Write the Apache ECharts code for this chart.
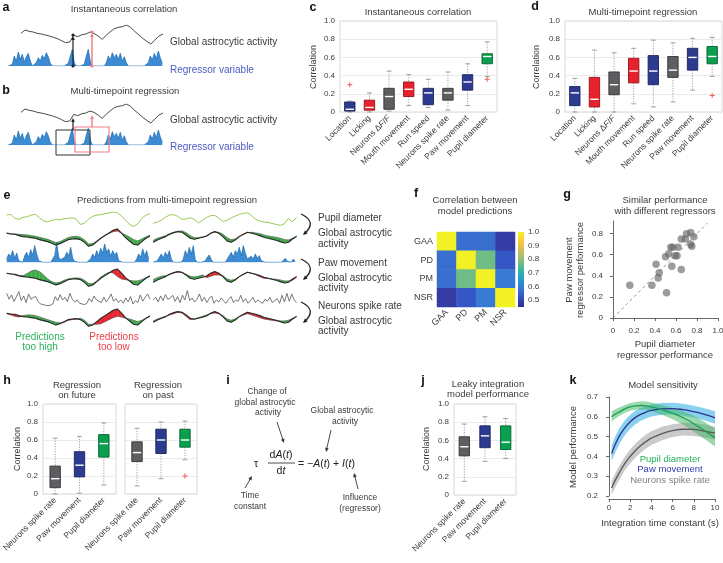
<!DOCTYPE html>
<html>
<head>
<meta charset="utf-8">
<script src="https://cdn.jsdelivr.net/npm/echarts@6/dist/echarts.min.js"></script>
<style>
  html, body { margin: 0; padding: 0; background: #fff; }
  #chart { width: 723px; height: 563px; }
</style>
</head>
<body>
<div id="chart"></div>
<script>
// ---------- data ----------
const boxCats = ['Location', 'Licking', 'Neurons ΔF/F', 'Mouth movement', 'Run speed', 'Neurons spike rate', 'Paw movement', 'Pupil diameter'];
const boxColorKeys = ['blue', 'red', 'gray', 'red', 'blue', 'gray', 'blue', 'green'];
// [low whisker, q1, median, q3, high whisker]
const instBoxes = [
  [0, 0.01, 0.03, 0.11, 0.12], [0, 0.02, 0.05, 0.13, 0.21], [0.01, 0.03, 0.17, 0.26, 0.45], [0.07, 0.17, 0.25, 0.33, 0.41],
  [0.05, 0.08, 0.21, 0.26, 0.36], [0.02, 0.13, 0.21, 0.26, 0.44], [0.07, 0.24, 0.33, 0.41, 0.53], [0.39, 0.53, 0.61, 0.64, 0.77]
];
const instOutliers = [[0, 0.30], [7, 0.36]];
const multiBoxes = [
  [0, 0.07, 0.21, 0.28, 0.37], [0, 0.055, 0.14, 0.38, 0.68], [0, 0.19, 0.30, 0.44, 0.65], [0.09, 0.32, 0.45, 0.59, 0.70],
  [0.055, 0.30, 0.45, 0.62, 0.79], [0.11, 0.38, 0.46, 0.61, 0.76], [0.24, 0.46, 0.60, 0.70, 0.81], [0.39, 0.53, 0.61, 0.72, 0.82]
];
const multiOutliers = [[7, 0.18]];

const regCats = ['Neurons spike rate', 'Paw movement', 'Pupil diameter'];
const regColorKeys = ['gray', 'blue', 'green'];
const futureBoxes = [[0, 0.07, 0.17, 0.31, 0.62], [0.01, 0.19, 0.32, 0.47, 0.64], [0.10, 0.41, 0.56, 0.66, 0.79]];
const pastBoxes = [[0.09, 0.36, 0.46, 0.58, 0.73], [0.17, 0.45, 0.60, 0.72, 0.80], [0.38, 0.52, 0.60, 0.72, 0.81]];
const pastOutliers = [[2, 0.20]];
const leakyBoxes = [[0.15, 0.43, 0.53, 0.64, 0.78], [0.37, 0.52, 0.65, 0.76, 0.86], [0.40, 0.50, 0.58, 0.76, 0.84]];

const corrLabels = ['GAA', 'PD', 'PM', 'NSR'];
const corrMatrix = [
  [1.00, 0.57, 0.57, 0.48],
  [0.57, 1.00, 0.77, 0.53],
  [0.57, 0.77, 1.00, 0.59],
  [0.48, 0.53, 0.59, 1.00]
];
const colorbarRange = [0.45, 1.0];
const colorbarTicks = [0.5, 0.6, 0.7, 0.8, 0.9, 1.0];

const pupilPerf = [0.16, 0.37, 0.41, 0.44, 0.43, 0.51, 0.50, 0.53, 0.55, 0.57, 0.56, 0.59, 0.61, 0.62, 0.65, 0.65, 0.69, 0.70, 0.74, 0.74, 0.75, 0.77];
const pawPerf = [0.31, 0.31, 0.51, 0.43, 0.38, 0.24, 0.58, 0.61, 0.67, 0.67, 0.49, 0.59, 0.59, 0.67, 0.75, 0.46, 0.75, 0.80, 0.81, 0.70, 0.68, 0.77];
const diagLine = [[0, 0], [0.9, 0.9]];
const gTicks = [0, 0.2, 0.4, 0.6, 0.8];

const kTimes = [0.25, 0.5, 1, 1.5, 2, 2.5, 3, 3.5, 4, 5, 6, 7, 8, 9, 10];
const pupilMean = [0.600, 0.610, 0.625, 0.640, 0.650, 0.655, 0.657, 0.655, 0.650, 0.636, 0.618, 0.595, 0.565, 0.530, 0.495];
const pupilLo = [0.575, 0.588, 0.605, 0.620, 0.630, 0.635, 0.637, 0.635, 0.628, 0.610, 0.588, 0.560, 0.525, 0.488, 0.450];
const pupilHi = [0.625, 0.635, 0.648, 0.660, 0.670, 0.675, 0.678, 0.677, 0.672, 0.660, 0.645, 0.628, 0.605, 0.575, 0.540];
const pawMean = [0.415, 0.450, 0.505, 0.545, 0.575, 0.597, 0.612, 0.624, 0.632, 0.640, 0.641, 0.636, 0.626, 0.612, 0.595];
const pawLo = [0.375, 0.410, 0.465, 0.508, 0.540, 0.562, 0.580, 0.592, 0.601, 0.610, 0.612, 0.607, 0.597, 0.582, 0.565];
const pawHi = [0.455, 0.490, 0.545, 0.582, 0.610, 0.632, 0.645, 0.656, 0.663, 0.670, 0.671, 0.666, 0.656, 0.643, 0.628];
const nsrMean = [0.240, 0.270, 0.320, 0.365, 0.400, 0.430, 0.455, 0.475, 0.492, 0.515, 0.530, 0.537, 0.536, 0.528, 0.518];
const nsrLo = [0.205, 0.235, 0.285, 0.330, 0.365, 0.395, 0.420, 0.440, 0.457, 0.482, 0.498, 0.505, 0.503, 0.495, 0.485];
const nsrHi = [0.275, 0.305, 0.355, 0.400, 0.435, 0.465, 0.490, 0.510, 0.527, 0.550, 0.563, 0.570, 0.569, 0.561, 0.550];

// traces (arbitrary units, sampled evenly along time)
const schemeGaa = [40, 50, 46, 44, 40, 38, 35, 32, 28, 24, 18, 12, 14, 34, 30, 36, 38, 44, 40, 32, 22, 34, 45, 54, 58, 60, 65, 58, 46, 36, 25, 16, 8, 20, 32, 38];
const schemeRegressor = [0, 0, 5, 30, 15, 42, 20, 35, 12, 28, 38, 15, 0, 0, 10, 25, 15, 32, 22, 40, 28, 8, 0, 0, 0, 0, 0, 0, 0, 0,
  8, 30, 50, 10, 0, 0, 0, 0, 5, 30, 50, 15, 0, 0, 0, 0, 0, 0, 0, 10, 30, 18, 40, 25, 35, 20, 38, 15, 28, 10,
  0, 0, 0, 0, 0, 0, 0, 0, 0, 0, 10, 30, 18, 38, 22, 45, 25, 8];

const gaaLeft = [45, 43, 42, 38, 35, 34, 32, 30, 26, 23, 20, 15, 10, 14, 20, 26, 28, 29, 26, 18, 6, 10, 20, 30, 38, 46, 54, 58, 46, 32, 22, 12, 10, 20, 30, 37];
const gaaRight = [18, 25, 30, 35, 42, 47, 50, 48, 40, 30, 27, 30, 33, 37, 45, 50, 45, 35, 22, 18, 25, 35, 42, 48, 45, 42, 38, 33, 30, 27, 24, 20, 16, 18, 28, 35];
const pupilPredLeft = [46, 44, 43, 42, 41, 40, 38, 36, 33, 30, 27, 22, 17, 20, 26, 32, 35, 36, 33, 25, 13, 14, 22, 31, 40, 45, 50, 52, 46, 40, 34, 26, 22, 28, 34, 39];
const pupilPredRight = [24, 30, 34, 38, 44, 48, 51, 52, 47, 38, 32, 32, 34, 36, 45, 49, 48, 42, 32, 26, 28, 36, 42, 47, 48, 46, 44, 40, 37, 35, 33, 30, 26, 25, 30, 37];
const pawPredLeft = [45, 44, 40, 37, 38, 44, 52, 55, 50, 40, 28, 20, 16, 18, 24, 28, 30, 31, 30, 24, 14, 14, 22, 34, 42, 48, 46, 36, 28, 26, 24, 22, 22, 26, 32, 38];
const pawPredRight = [26, 32, 36, 38, 42, 46, 49, 47, 42, 36, 34, 36, 40, 32, 36, 40, 40, 38, 28, 24, 27, 35, 42, 48, 45, 41, 35, 30, 30, 28, 27, 25, 22, 22, 24, 33];
const nsrPredLeft = [44, 40, 36, 34, 38, 40, 40, 38, 34, 30, 26, 22, 18, 16, 18, 24, 26, 28, 30, 24, 12, 12, 12, 14, 20, 26, 32, 36, 34, 30, 28, 24, 20, 24, 30, 36];
const nsrPredRight = [22, 28, 32, 36, 40, 44, 48, 46, 36, 26, 28, 32, 36, 40, 44, 46, 44, 38, 28, 24, 28, 35, 40, 44, 40, 36, 32, 28, 26, 24, 22, 22, 22, 24, 30, 36];

const pupilLeft = [40, 42, 30, 27, 33, 35, 40, 42, 32, 22, 20, 24, 27, 26, 29, 30, 32, 28, 12, 15, 28, 36, 40, 41, 44, 46, 49, 47, 38, 25, 12, 6, 14, 30, 40, 44];
const pupilRight = [15, 19, 25, 34, 40, 41, 36, 27, 28, 32, 27, 16, 24, 33, 38, 39, 31, 21, 24, 31, 37, 42, 45, 47, 38, 27, 22, 19, 18, 15, 12, 9, 14, 30, 20, 33];
const pawLeft = [10, 25, 18, 35, 12, 28, 5, 0, 0, 20, 30, 15, 38, 22, 50, 25, 5, 0, 0, 0, 0, 0, 0, 5, 20, 60, 15, 8, 3, 15,
  30, 20, 45, 12, 3, 0, 0, 0, 0, 0, 0, 0, 10, 25, 15, 35, 20, 42, 28, 55, 30, 40, 18, 35, 22, 30, 5, 0, 0, 0,
  0, 0, 0, 0, 0, 10, 25, 15, 40, 20, 35, 10];
const pawRight = [0, 0, 5, 15, 25, 12, 30, 18, 35, 10, 0, 0, 0, 0, 0, 10, 35, 20, 45, 25, 50, 8, 0, 0, 0, 0, 5, 15, 22, 8,
  0, 0, 0, 0, 0, 0, 0, 5, 20, 30, 15, 35, 25, 45, 20, 50, 28, 10, 5, 18, 10, 25, 12, 20, 5, 0, 0, 0, 0, 0,
  0, 0, 0, 0, 0, 0, 12, 3, 0, 0, 10, 2];
const spikesLeft = [40, 22, 35, 15, 30, 45, 18, 32, 12, 38, 22, 28, 30, 14, 8, 6, 4, 3, 4, 8,
  30, 18, 36, 20, 28, 15, 40, 22, 14, 20, 10, 8, 6, 10, 25, 14, 32, 20, 16, 12,
  28, 14, 24, 38, 16, 24, 12, 20, 10, 26, 14, 30, 8, 18, 12, 35, 16, 28, 38, 22];
const spikesRight = [20, 28, 14, 32, 18, 36, 22, 26, 34, 16, 30, 12, 34, 20, 48, 18, 26, 14, 22, 38,
  16, 28, 12, 24, 32, 10, 20, 14, 26, 16, 10, 22, 30, 12, 20, 16, 34, 14, 24, 10,
  18, 28, 12, 20, 14, 10, 22, 16, 28, 12, 18, 24, 10, 34, 14, 40, 16, 38, 20, 12];

// ---------- styling ----------
const FONT = "'Liberation Sans', Arial, sans-serif";
const TXT = '#3a3a3a';
const GREEN_FILL = '#3fae49', RED_FILL = '#e8262e';
const BOX_COLORS = {
  blue: ['#2c3b8f', '#1b245c'], red: ['#e5222d', '#9a1219'],
  gray: ['#5d5e61', '#333333'], green: ['#0a9e4f', '#05652f']
};
const PARULA = ['#352a87', '#3450c4', '#3a78d2', '#1ea2c8', '#3cb7a0', '#8abf76', '#d1bb59', '#fbc93a', '#f2f126'];
const tickFmt = v => (v === 0 ? '0' : v.toFixed(1));

const grids = [], xAxes = [], yAxes = [], series = [];
function addGrid(box, xa, ya) {
  grids.push(Object.assign({ containLabel: false, outerBoundsMode: 'none' }, box));
  const i = grids.length - 1;
  xAxes.push(Object.assign({ gridIndex: i }, xa));
  yAxes.push(Object.assign({ gridIndex: i }, ya));
  return i;
}
const hiddenAxis = (min, max) => ({ type: 'value', min, max, show: false, splitLine: { show: false } });
function traceGrid(left, top, width, height, yMax, n) {
  return addGrid({ left, top, width, height }, hiddenAxis(0, n - 1), hiddenAxis(0, yMax));
}
function traceLine(g, arr, color, width, z, area) {
  const s = {
    type: 'line', xAxisIndex: g, yAxisIndex: g, data: arr.map((v, i) => [i, v]),
    symbol: 'none', silent: true, z: z || 2, lineStyle: { color, width }
  };
  if (area) s.areaStyle = { color: area, opacity: 1 };
  return s;
}
function fillBetween(g, actual, pred) {
  return {
    type: 'custom', xAxisIndex: g, yAxisIndex: g, silent: true, z: 1,
    data: actual.slice(0, -1).map((a, i) => [i, a, pred[i], actual[i + 1], pred[i + 1]]),
    renderItem: (params, api) => {
      const i = api.value(0), a0 = api.value(1), p0 = api.value(2), a1 = api.value(3), p1 = api.value(4);
      const d0 = p0 - a0, d1 = p1 - a1;
      const col = d => (d >= 0 ? GREEN_FILL : RED_FILL);
      const poly = (pts, c) => ({ type: 'polygon', shape: { points: pts.map(p => api.coord(p)) }, style: { fill: c, stroke: c, lineWidth: 0.3 } });
      if (d0 * d1 >= 0) return poly([[i, a0], [i + 1, a1], [i + 1, p1], [i, p0]], col(d0 + d1));
      const t = d0 / (d0 - d1), xc = i + t, yc = a0 + t * (a1 - a0);
      return { type: 'group', children: [poly([[i, a0], [xc, yc], [i, p0]], col(d0)), poly([[xc, yc], [i + 1, a1], [i + 1, p1]], col(d1))] };
    }
  };
}
function gaaRow(left, top, actual, pred) {
  const g = traceGrid(left, top, 143.3, 20, 60, actual.length);
  series.push(fillBetween(g, actual, pred));
  series.push(traceLine(g, pred, '#555', 0.6, 2));
  series.push(traceLine(g, actual, '#2a2a2a', 1.1, 3));
}

const catFmt = v => (v === 'Neurons ΔF/F' ? 'Neurons Δ{i|F}/{i|F}' : v);
function boxGrid(box, cats, showY) {
  return addGrid(Object.assign({ show: true, borderColor: '#cfcfcf', borderWidth: 0.8 }, box),
    {
      type: 'category', data: cats, axisLine: { show: false }, axisTick: { show: false }, splitLine: { show: false },
      axisLabel: {
        rotate: 45, interval: 0, fontSize: 8.5, color: TXT, fontFamily: FONT, margin: 5, formatter: catFmt,
        rich: { i: { fontStyle: 'italic', fontSize: 8.5, color: TXT, fontFamily: FONT } }
      }
    },
    {
      type: 'value', min: 0, max: 1, interval: 0.2, axisLine: { show: false }, axisTick: { show: false },
      axisLabel: { show: showY, fontSize: 8, color: TXT, fontFamily: FONT, margin: 5, formatter: tickFmt },
      splitLine: { show: true, lineStyle: { color: '#e6e6e6', width: 0.8 } }
    });
}
function boxSeries(g, boxes, colorKeys) {
  return {
    type: 'custom', xAxisIndex: g, yAxisIndex: g, silent: true, z: 3,
    data: boxes.map((b, i) => [i].concat(b)),
    renderItem: (params, api) => {
      const i = api.value(0);
      const pLo = api.coord([i, api.value(1)]), pQ1 = api.coord([i, api.value(2)]);
      const pMed = api.coord([i, api.value(3)]), pQ3 = api.coord([i, api.value(4)]), pHi = api.coord([i, api.value(5)]);
      const x = pLo[0], half = 5.2, cap = 2.5;
      const [fill, edge] = BOX_COLORS[colorKeys[params.dataIndex]];
      const wh = { stroke: '#8a8a8a', lineWidth: 0.8, lineDash: [1.2, 1.4] };
      const cp = { stroke: '#8a8a8a', lineWidth: 0.8 };
      return {
        type: 'group', children: [
          { type: 'line', shape: { x1: x, y1: pHi[1], x2: x, y2: pQ3[1] }, style: wh },
          { type: 'line', shape: { x1: x, y1: pQ1[1], x2: x, y2: pLo[1] }, style: wh },
          { type: 'line', shape: { x1: x - cap, y1: pHi[1], x2: x + cap, y2: pHi[1] }, style: cp },
          { type: 'line', shape: { x1: x - cap, y1: pLo[1], x2: x + cap, y2: pLo[1] }, style: cp },
          { type: 'rect', shape: { x: x - half, y: pQ3[1], width: 2 * half, height: pQ1[1] - pQ3[1] }, style: { fill, stroke: edge, lineWidth: 0.9 } },
          { type: 'line', shape: { x1: x - half + 1, y1: pMed[1], x2: x + half - 1, y2: pMed[1] }, style: { stroke: '#fff', lineWidth: 1.4 } }
        ]
      };
    }
  };
}
function outlierSeries(g, pts) {
  return {
    type: 'scatter', xAxisIndex: g, yAxisIndex: g, data: pts, silent: true, z: 4,
    symbol: 'path://M4,0H6V4H10V6H6V10H4V6H0V4H4Z', symbolSize: 5, itemStyle: { color: '#e8303a' }
  };
}
function plainAxis(extra) {
  return Object.assign({
    type: 'value',
    axisLine: { show: true, lineStyle: { color: '#444', width: 0.8 } },
    axisTick: { show: true, length: 3, lineStyle: { color: '#444', width: 0.8 } },
    axisLabel: { fontSize: 8, color: TXT, fontFamily: FONT, formatter: tickFmt },
    splitLine: { show: false }
  }, extra);
}

// ---------- panels a, b ----------
[0, 79].forEach(dy => {
  const gb = traceGrid(21, 25 + dy, 142, 21.7, 65, schemeGaa.length);
  series.push(traceLine(gb, schemeGaa, '#333', 0.9));
  const gr = traceGrid(8.3, 46 + dy, 154, 20, 60, schemeRegressor.length);
  series.push(traceLine(gr, schemeRegressor, '#1a6bb5', 0.7, 2, '#3d8bd2'));
});

// ---------- panels c, d ----------
const gc = boxGrid({ left: 340, top: 21, width: 157, height: 91 }, boxCats, true);
series.push(boxSeries(gc, instBoxes, boxColorKeys), outlierSeries(gc, instOutliers));
const gd = boxGrid({ left: 565, top: 21, width: 157, height: 91 }, boxCats, true);
series.push(boxSeries(gd, multiBoxes, boxColorKeys), outlierSeries(gd, multiOutliers));

// ---------- panel e ----------
[[6.7, pupilLeft, gaaLeft, pupilPredLeft, pawLeft, pawPredLeft, spikesLeft, nsrPredLeft],
 [153.3, pupilRight, gaaRight, pupilPredRight, pawRight, pawPredRight, spikesRight, nsrPredRight]].forEach(
  ([left, pupil, gaa, pupilPred, paw, pawPred, spikes, nsrPred]) => {
    const gp = traceGrid(left, 211.7, 143.3, 16.7, 50, pupil.length);
    series.push(traceLine(gp, pupil, '#8cc63f', 0.9));
    gaaRow(left, 228.3, gaa, pupilPred);
    const gw = traceGrid(left, 242.3, 142, 20, 60, paw.length);
    series.push(traceLine(gw, paw, '#1a6bb5', 0.7, 2, '#3d8bd2'));
    gaaRow(left, 268.3, gaa, pawPred);
    const gs = traceGrid(left, 288.3, 143.3, 18.3, 55, spikes.length);
    series.push(traceLine(gs, spikes, '#555', 0.8));
    gaaRow(left, 308.3, gaa, nsrPred);
  });

// ---------- panel f ----------
const gf = addGrid({ left: 437, top: 232, width: 78, height: 75 },
  {
    type: 'category', data: corrLabels, axisLine: { show: false }, axisTick: { show: false }, splitLine: { show: false },
    axisLabel: { rotate: 45, interval: 0, fontSize: 9, color: TXT, fontFamily: FONT, margin: 4 }
  },
  {
    type: 'category', data: corrLabels, inverse: true, axisLine: { show: false }, axisTick: { show: false }, splitLine: { show: false },
    axisLabel: { interval: 0, fontSize: 9, color: TXT, fontFamily: FONT, margin: 4 }
  });
const heatIndex = series.length;
series.push({
  type: 'heatmap', xAxisIndex: gf, yAxisIndex: gf, silent: true,
  data: corrMatrix.flatMap((row, r) => row.map((v, c) => [c, r, v]))
});
const gcb = addGrid({ left: 518, top: 232, width: 6, height: 75 },
  { type: 'category', data: [''], show: false },
  {
    type: 'value', min: colorbarRange[0], max: colorbarRange[1], position: 'right',
    axisLine: { show: false }, splitLine: { show: false },
    axisTick: { show: true, inside: true, length: 1.5, customValues: colorbarTicks, lineStyle: { color: '#555', width: 0.6 } },
    axisLabel: { fontSize: 8, color: TXT, fontFamily: FONT, margin: 4, customValues: colorbarTicks, formatter: v => v.toFixed(1) }
  });
series.push({
  type: 'custom', xAxisIndex: gcb, yAxisIndex: gcb, silent: true,
  data: [[0, colorbarRange[0], colorbarRange[1]]],
  renderItem: (params, api) => {
    const p0 = api.coord([0, api.value(1)]), p1 = api.coord([0, api.value(2)]);
    const w = api.size([1, 0])[0];
    const stops = PARULA.map((c, i) => ({ offset: i / (PARULA.length - 1), color: c }));
    return {
      type: 'rect', shape: { x: p0[0] - w / 2, y: p1[1], width: w, height: p0[1] - p1[1] },
      style: { fill: new echarts.graphic.LinearGradient(0, 1, 0, 0, stops) }
    };
  }
});

// ---------- panel g ----------
const gg = addGrid({ left: 613, top: 221, width: 105, height: 97 },
  plainAxis({ min: 0, max: 1, interval: 0.2, offset: 4, axisLabel: { fontSize: 8, color: TXT, fontFamily: FONT, margin: 5, formatter: tickFmt } }),
  plainAxis({
    min: 0, max: 0.92, offset: 4,
    axisTick: { show: true, length: 3, customValues: gTicks, lineStyle: { color: '#444', width: 0.8 } },
    axisLabel: { fontSize: 8, color: TXT, fontFamily: FONT, margin: 6, customValues: gTicks, formatter: tickFmt }
  }));
series.push({
  type: 'line', xAxisIndex: gg, yAxisIndex: gg, data: diagLine, symbol: 'none', silent: true, z: 1,
  lineStyle: { color: '#777', width: 0.8, type: [3, 3] }
});
series.push({
  type: 'scatter', xAxisIndex: gg, yAxisIndex: gg, silent: true, z: 2, symbolSize: 7.5,
  data: pupilPerf.map((x, i) => [x, pawPerf[i]]), itemStyle: { color: 'rgba(100,100,100,0.8)' }
});

// ---------- panel h ----------
const gh1 = boxGrid({ left: 43, top: 404, width: 73, height: 90 }, regCats, true);
series.push(boxSeries(gh1, futureBoxes, regColorKeys));
const gh2 = boxGrid({ left: 125, top: 404, width: 72, height: 90 }, regCats, false);
series.push(boxSeries(gh2, pastBoxes, regColorKeys), outlierSeries(gh2, pastOutliers));

// ---------- panel j ----------
const gj = boxGrid({ left: 454, top: 404, width: 62, height: 91 }, regCats, true);
series.push(boxSeries(gj, leakyBoxes, regColorKeys));

// ---------- panel k ----------
const gk = addGrid({ left: 609, top: 397, width: 106, height: 99 },
  plainAxis({ min: 0, max: 10, interval: 2, offset: 3, axisLabel: { fontSize: 8, color: TXT, fontFamily: FONT, margin: 5 } }),
  plainAxis({ min: 0.2, max: 0.7, interval: 0.1, offset: 6, axisLabel: { fontSize: 8, color: TXT, fontFamily: FONT, margin: 5, formatter: v => v.toFixed(1) } }));
function band(xs, lo, hi, color) {
  return {
    type: 'custom', xAxisIndex: gk, yAxisIndex: gk, silent: true, z: 1, data: [[xs[0], lo[0]]],
    renderItem: (params, api) => {
      const top = xs.map((x, i) => api.coord([x, hi[i]]));
      const bot = xs.map((x, i) => api.coord([x, lo[i]])).reverse();
      return { type: 'polygon', shape: { points: top.concat(bot) }, style: { fill: color } };
    }
  };
}
const kLine = (mean, color) => ({
  type: 'line', xAxisIndex: gk, yAxisIndex: gk, silent: true, z: 3, symbol: 'none', smooth: true,
  data: kTimes.map((x, i) => [x, mean[i]]), lineStyle: { color, width: 1.3 }
});
series.push(band(kTimes, nsrLo, nsrHi, 'rgba(150,150,150,0.5)'));
series.push(band(kTimes, pawLo, pawHi, 'rgba(41,171,226,0.55)'));
series.push(band(kTimes, pupilLo, pupilHi, 'rgba(60,180,95,0.5)'));
series.push(kLine(nsrMean, '#59595b'), kLine(pawMean, '#2e3192'), kLine(pupilMean, '#1a9d55'));

// ---------- annotations ----------
function txt(x, y, text, o) {
  o = o || {};
  const st = {
    text, fill: o.color || TXT, font: `${o.weight || 'normal'} ${o.size || 9.5}px ${FONT}`,
    align: o.align || 'center', textAlign: o.align || 'center', verticalAlign: 'middle', textVerticalAlign: 'middle'
  };
  if (o.rich) st.rich = o.rich;
  return { type: 'text', x, y, rotation: o.rot || 0, silent: true, z: 10, style: st };
}
function head(x, y, ang, size, color) {
  const l = [x - size * Math.cos(ang - 0.42), y - size * Math.sin(ang - 0.42)];
  const r = [x - size * Math.cos(ang + 0.42), y - size * Math.sin(ang + 0.42)];
  return { type: 'polygon', shape: { points: [[x, y], l, r] }, style: { fill: color }, silent: true, z: 10 };
}
function arrow(x1, y1, x2, y2, color, w) {
  const ang = Math.atan2(y2 - y1, x2 - x1);
  return [{ type: 'line', shape: { x1, y1, x2: x2 - 2 * Math.cos(ang), y2: y2 - 2 * Math.sin(ang) }, style: { stroke: color, lineWidth: w }, silent: true, z: 10 },
    head(x2, y2, ang, 4.5, color)];
}
const dot = (x, y, c) => ({ type: 'circle', shape: { cx: x, cy: y, r: 1.6 }, style: { fill: c }, silent: true, z: 10 });
const letter = (x, y, s) => txt(x, y, s, { size: 12.5, weight: 'bold', color: '#111' });
const PINK = '#f08088', BLUE_TXT = '#4b5bc4';
const ital = { i: { fontStyle: 'italic', fontSize: 10.5, fontFamily: FONT, fill: '#222', color: '#222' } };

const graphics = [
  letter(6, 8, 'a'), letter(6, 91, 'b'), letter(313, 8, 'c'), letter(535, 7, 'd'), letter(7, 196, 'e'),
  letter(416, 194, 'f'), letter(567, 195, 'g'), letter(7, 381, 'h'), letter(228, 381, 'i'), letter(423, 381, 'j'), letter(573, 381, 'k'),

  txt(124, 9, 'Instantaneous correlation'), txt(125, 91, 'Multi-timepoint regression'),
  txt(170, 42, 'Global astrocytic activity', { align: 'left', size: 10 }),
  txt(170, 70, 'Regressor variable', { align: 'left', size: 10, color: BLUE_TXT }),
  txt(170, 120, 'Global astrocytic activity', { align: 'left', size: 10 }),
  txt(170, 147, 'Regressor variable', { align: 'left', size: 10, color: BLUE_TXT }),

  txt(418, 12, 'Instantaneous correlation'), txt(643, 12, 'Multi-timepoint regression'),
  txt(314, 67, 'Correlation', { rot: Math.PI / 2, size: 9 }), txt(537, 67, 'Correlation', { rot: Math.PI / 2, size: 9 }),

  txt(167, 200, 'Predictions from multi-timepoint regression'),
  txt(318, 218, 'Pupil diameter', { align: 'left', size: 10 }),
  txt(318, 233, 'Global astrocytic', { align: 'left', size: 10 }), txt(318, 244, 'activity', { align: 'left', size: 10 }),
  txt(318, 263, 'Paw movement', { align: 'left', size: 10 }),
  txt(318, 278, 'Global astrocytic', { align: 'left', size: 10 }), txt(318, 288, 'activity', { align: 'left', size: 10 }),
  txt(318, 306, 'Neurons spike rate', { align: 'left', size: 10 }),
  txt(318, 321, 'Global astrocytic', { align: 'left', size: 10 }), txt(318, 331, 'activity', { align: 'left', size: 10 }),
  txt(40, 337, 'Predictions', { size: 10, color: '#2bb35b' }), txt(40, 347, 'too high', { size: 10, color: '#2bb35b' }),
  txt(114, 337, 'Predictions', { size: 10, color: '#ee3e48' }), txt(114, 347, 'too low', { size: 10, color: '#ee3e48' }),

  txt(475, 200, 'Correlation between'), txt(475, 211, 'model predictions'),
  txt(665, 200, 'Similar performance'), txt(665, 211, 'with different regressors'),
  txt(569, 270, 'Paw movement', { rot: Math.PI / 2, size: 9.5 }), txt(580, 270, 'regressor performance', { rot: Math.PI / 2, size: 9.5 }),
  txt(665, 344, 'Pupil diameter'), txt(665, 355, 'regressor performance'),

  txt(77, 385, 'Regression'), txt(77, 395, 'on future'), txt(158, 385, 'Regression'), txt(158, 395, 'on past'),
  txt(18, 449, 'Correlation', { rot: Math.PI / 2, size: 9 }),

  txt(267, 392, 'Change of', { size: 8.5 }), txt(265, 403, 'global astrocytic', { size: 8.5 }), txt(268, 413, 'activity', { size: 8.5 }),
  txt(342, 411, 'Global astrocytic', { size: 8.5 }), txt(345, 422, 'activity', { size: 8.5 }),
  txt(250, 496, 'Time', { size: 8.5 }), txt(250, 507, 'constant', { size: 8.5 }),
  txt(360, 498, 'Influence', { size: 8.5 }), txt(360, 509, '(regressor)', { size: 8.5 }),
  txt(256, 464, 'τ', { size: 10.5, color: '#222' }),
  txt(281, 455, 'd{i|A}({i|t})', { size: 10.5, color: '#222', rich: ital }),
  txt(281, 471, 'd{i|t}', { size: 10.5, color: '#222', rich: ital }),
  { type: 'line', shape: { x1: 268, y1: 463, x2: 295, y2: 463 }, style: { stroke: '#222', lineWidth: 0.8 }, silent: true },
  txt(298, 464, '= −{i|A}({i|t}) + {i|I}({i|t})', { size: 10.5, color: '#222', align: 'left', rich: ital }),

  txt(488, 384, 'Leaky integration'), txt(488, 394, 'model performance'),
  txt(427, 449, 'Correlation', { rot: Math.PI / 2, size: 9 }),

  txt(663, 385, 'Model sensitivity'),
  txt(573, 447, 'Model performance', { rot: Math.PI / 2, size: 9.5 }),
  txt(660, 523, 'Integration time constant (s)'),
  txt(670, 459, 'Pupil diameter', { size: 9.5, color: '#22b05a' }),
  txt(670, 469, 'Paw movement', { size: 9.5, color: '#3640b0' }),
  txt(670, 480, 'Neurons spike rate', { size: 9.5, color: '#808080' }),

  // scheme a/b markers
  dot(73, 66, '#222'), dot(73, 35, '#222'), dot(92, 66, PINK), dot(92, 32, PINK),
  { type: 'rect', shape: { x: 56, y: 130, width: 34, height: 25 }, style: { fill: 'none', stroke: '#333', lineWidth: 1 }, silent: true, z: 10 },
  { type: 'rect', shape: { x: 75, y: 127, width: 34, height: 25 }, style: { fill: 'none', stroke: PINK, lineWidth: 1.2 }, silent: true, z: 10 }
]
  .concat(arrow(73, 66, 73, 36, '#222', 1.2), arrow(92, 66, 92, 33, PINK, 1.5))
  .concat(arrow(73, 130, 73, 118, '#222', 1.2), arrow(92, 127, 92, 115, PINK, 1.5))
  .concat(arrow(277, 422, 284, 443, '#333', 0.9), arrow(331, 430, 326, 452, '#333', 0.9))
  .concat(arrow(245, 488, 252, 476, '#333', 0.9), arrow(358, 489, 354, 473, '#333', 0.9));

[214, 259, 302].forEach(y0 => {
  graphics.push({ type: 'bezierCurve', shape: { x1: 301, y1: y0, x2: 304, y2: y0 + 20, cpx1: 318, cpy1: y0 + 8 }, style: { stroke: '#222', lineWidth: 1.3, fill: 'none' }, silent: true, z: 10 });
  graphics.push(head(303, y0 + 21, Math.atan2(13, -14), 5, '#222'));
});

const chart = echarts.init(document.getElementById('chart'), null, { renderer: 'canvas' });
chart.setOption({
  animation: false,
  textStyle: { fontFamily: FONT },
  grid: grids,
  xAxis: xAxes,
  yAxis: yAxes,
  visualMap: [{
    type: 'continuous', show: false, min: colorbarRange[0], max: colorbarRange[1],
    dimension: 2, seriesIndex: heatIndex, inRange: { color: PARULA }
  }],
  series,
  graphic: graphics
});
</script>
</body>
</html>
